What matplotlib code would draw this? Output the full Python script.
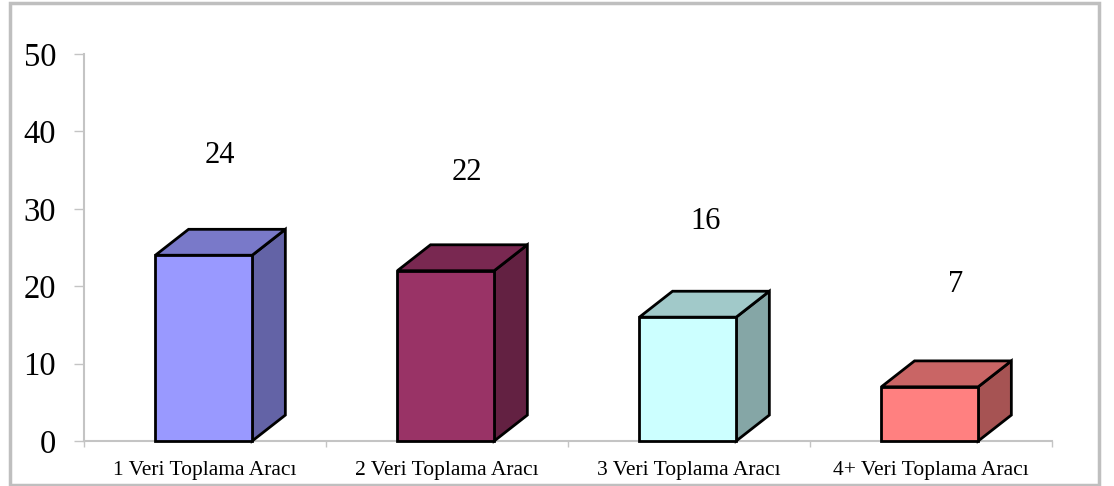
import matplotlib

matplotlib.use('Agg')
import matplotlib.pyplot as plt
from matplotlib.patches import Polygon, Rectangle
from matplotlib.colors import to_rgb

plt.rcParams['font.family'] = ['Liberation Serif', 'DejaVu Serif']

categories = ['1 Veri Toplama Aracı', '2 Veri Toplama Aracı', '3 Veri Toplama Aracı', '4+ Veri Toplama Aracı']
values = [24, 22, 16, 7]
bar_colors = ['#9999FF', '#993366', '#CCFFFF', '#FF8080']
y_ticks = [0, 10, 20, 30, 40, 50]

# bar shape, in data units
bar_width = 0.40
depth_x = 0.137
depth_y = 3.35

# value labels sit well above the bars, offsets in points
label_dx = [11, 14, 12, 18]
label_dy = [72, 71, 69, 74]


def shade(color, k):
    return tuple(c * k for c in to_rgb(color))


fig = plt.figure(figsize=(11.14, 4.86), dpi=100)
fig.patch.set_facecolor('white')

# grey frame round the whole chart
fig.add_artist(Rectangle((9.5 / 1114, 1 - 485 / 486), 1089 / 1114, 482 / 486, transform=fig.transFigure,
                         fill=False, edgecolor='#bfbfbf', linewidth=2.5))

ax = fig.add_axes([84 / 1114, 1 - 441 / 486, 968 / 1114, 387 / 486])
ax.set_xlim(0, 4)
ax.set_ylim(0, 50)

for s in ['top', 'right']:
    ax.spines[s].set_visible(False)
for s in ['left', 'bottom']:
    ax.spines[s].set_color('#c4c4c4')
    ax.spines[s].set_linewidth(1.5)

ax.set_yticks(y_ticks)
ax.tick_params(axis='y', length=7.5, width=1, color='#c4c4c4', labelsize=23.5, pad=12.5, labelcolor='black')
ax.set_xticks(range(5))
ax.set_xticks([i + 0.5 for i in range(4)], minor=True)
ax.set_xticklabels([])
ax.set_xticklabels(categories, minor=True)
ax.tick_params(axis='x', which='major', length=4, width=1, color='#c4c4c4')
ax.tick_params(axis='x', which='minor', length=0, labelsize=15.5, pad=14.5, labelcolor='black')

for i, v in enumerate(values):
    x0 = i + 0.5 - bar_width / 2 - 0.005
    x1 = x0 + bar_width
    c = bar_colors[i]
    edge = dict(edgecolor='black', linewidth=2, joinstyle='miter', clip_on=False, zorder=3)
    ax.add_patch(Polygon([(x1, 0), (x1 + depth_x, depth_y), (x1 + depth_x, v + depth_y), (x1, v)],
                         facecolor=shade(c, 0.65), **edge))
    ax.add_patch(Polygon([(x0, v), (x0 + depth_x, v + depth_y), (x1 + depth_x, v + depth_y), (x1, v)],
                         facecolor=shade(c, 0.79), **edge))
    ax.add_patch(Rectangle((x0, 0), bar_width, v, facecolor=c, **edge))
    ax.annotate(str(v), xy=(i + 0.5, v), xytext=(label_dx[i], label_dy[i]), textcoords='offset points',
                ha='center', va='center', fontsize=22, color='black', zorder=4)

fig.savefig('out.png', dpi=100)
